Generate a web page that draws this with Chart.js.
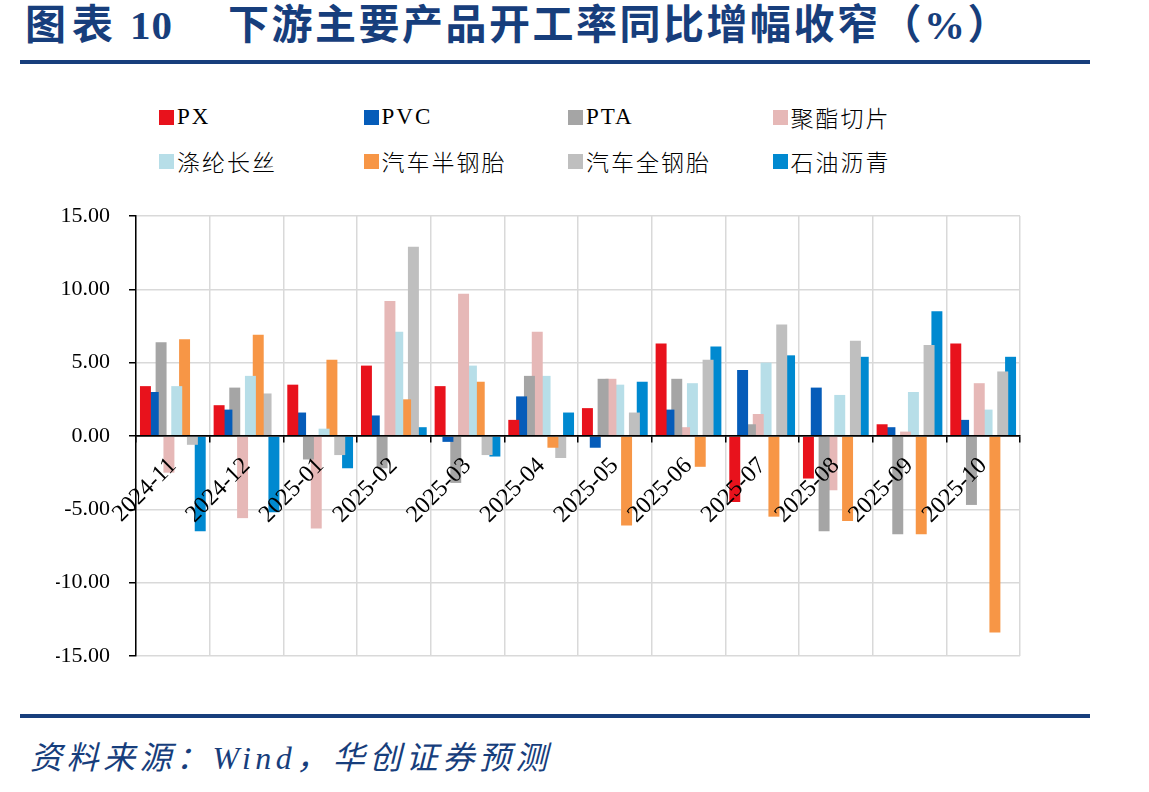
<!DOCTYPE html>
<html>
<head>
<meta charset="utf-8">
<script src="https://cdn.jsdelivr.net/npm/chart.js@4.4.1/dist/chart.umd.min.js"></script>
<style>
  body { margin: 0; width: 1149px; height: 792px; background: #fff; position: relative; overflow: hidden;
         font-family: "Liberation Serif", "Noto Sans CJK SC", serif; }
  .title { position: absolute; top: 1px; color: #173e7c; font-weight: bold; font-size: 41px; line-height: 48px; white-space: nowrap; }
  .rule { position: absolute; left: 20px; width: 1070px; height: 4px; background: #173e7c; }
  #legend { position: absolute; left: 159px; top: 104px; display: grid; grid-template-columns: repeat(4, 204.5px); row-gap: 18px; }
  #legend .item { display: flex; align-items: center; height: 26px; font-size: 23px; font-weight: 300; letter-spacing: 2px; color: #000; white-space: nowrap; }
  #legend .sw { width: 15px; height: 15px; margin-right: 3px; flex: none; }
  #chartBox { position: absolute; left: 0; top: 200px; }
  .source { position: absolute; left: 30px; top: 738px; color: #173e7c; font-style: italic; font-size: 32px; line-height: 40px; letter-spacing: 4.5px; white-space: nowrap; }
</style>
</head>
<body>
<div class="title" style="left:25px; letter-spacing:6px;">图表</div>
<div class="title" style="left:130px; letter-spacing:1px;">10</div>
<div class="title" style="left:228px; letter-spacing:2.5px;">下游主要产品开工率同比增幅收窄（%）</div>
<div class="rule" style="top:60px;"></div>
<div id="legend"></div>
<div id="chartBox"><canvas id="myChart" width="1149" height="470"></canvas></div>
<div class="rule" style="top:714px;"></div>
<div class="source">资料来源：Wind，华创证券预测</div>
<script>
const categories = ["2024-11", "2024-12", "2025-01", "2025-02", "2025-03", "2025-04",
  "2025-05", "2025-06", "2025-07", "2025-08", "2025-09", "2025-10"];

const px = [3.4, 2.1, 3.5, 4.8, 3.4, 1.1, 1.9, 6.3, -4.5, -2.9, 0.8, 6.3];
const pvc = [3.0, 1.8, 1.6, 1.4, -0.4, 2.7, -0.8, 1.8, 4.5, 3.3, 0.6, 1.1];
const pta = [6.4, 3.3, -1.6, -2.2, -3.2, 4.1, 3.9, 3.9, 0.8, -6.5, -6.7, -4.7];
const polyesterChip = [-2.5, -5.6, -6.3, 9.2, 9.7, 7.1, 3.9, 0.6, 1.5, -3.7, 0.3, 3.6];
const polyesterFilament = [3.4, 4.1, 0.5, 7.1, 4.8, 4.1, 3.5, 3.6, 5.0, 2.8, 3.0, 1.8];
const semiSteelTire = [6.6, 6.9, 5.2, 2.5, 3.7, -0.8, -6.1, -2.1, -5.5, -5.8, -6.7, -13.4];
const allSteelTire = [-0.6, 2.9, -1.3, 12.9, -1.3, -1.5, 1.6, 5.2, 7.6, 6.5, 6.2, 4.4];
const asphalt = [-6.5, -5.2, -2.2, 0.6, -1.4, 1.6, 3.7, 6.1, 5.5, 5.4, 8.5, 5.4];

const seriesNames = ["PX", "PVC", "PTA", "聚酯切片", "涤纶长丝", "汽车半钢胎", "汽车全钢胎", "石油沥青"];
const seriesData = [px, pvc, pta, polyesterChip, polyesterFilament, semiSteelTire, allSteelTire, asphalt];
const seriesColors = ["#e8121c", "#055cb9", "#a5a5a5", "#e6b8b7", "#b7dee8", "#f79646", "#bfbfbf", "#0089d0"];

const yMin = -15;
const yMax = 15;
const yStep = 5;

const htmlLegend = {
  id: "htmlLegend",
  afterUpdate(chart) {
    const box = document.getElementById("legend");
    box.innerHTML = "";
    chart.options.plugins.legend.labels.generateLabels(chart).forEach((item) => {
      const el = document.createElement("div");
      el.className = "item";
      const sw = document.createElement("span");
      sw.className = "sw";
      sw.style.background = item.fillStyle;
      const tx = document.createElement("span");
      tx.textContent = item.text;
      el.appendChild(sw);
      el.appendChild(tx);
      box.appendChild(el);
    });
  },
};

// no extra room for label overflow, the chart area is set by layout padding only
const noScalePadding = (s) => {
  s.paddingTop = 0;
  s.paddingBottom = 0;
  s.paddingLeft = 0;
  s.paddingRight = 0;
};

const data = {
  labels: categories,
  datasets: seriesNames.map((name, i) => ({
    label: name,
    data: seriesData[i],
    backgroundColor: seriesColors[i],
    borderWidth: 0,
    categoryPercentage: 0.85,
    barPercentage: 1.4,
  })),
};

const config = {
  type: "bar",
  data: data,
  options: {
    responsive: false,
    animation: false,
    devicePixelRatio: 1,
    layout: { padding: { left: 56, right: 129, top: 16, bottom: 14 } },
    plugins: { legend: { display: false }, tooltip: { enabled: false } },
    scales: {
      x: {
        position: { y: 0 },
        grid: { color: "#d9d9d9", lineWidth: 1.5, tickColor: "#000", tickLength: 6, offset: true },
        border: { color: "#000", width: 1.5, z: 1 },
        ticks: {
          z: 1, // month labels sit over the bars
          color: "#000",
          font: { family: "Liberation Serif", size: 24 },
          minRotation: 45,
          maxRotation: 45,
          autoSkip: false,
          padding: 10,
        },
        afterFit: noScalePadding,
      },
      y: {
        min: yMin,
        max: yMax,
        ticks: {
          stepSize: yStep,
          callback: (v) => v.toFixed(2),
          color: "#000",
          font: { family: "Liberation Serif", size: 22 },
          padding: 19,
        },
        grid: {
          color: (ctx) => (ctx.tick && ctx.tick.value === 0 ? "#000" : "#d9d9d9"),
          lineWidth: 1.5,
          tickColor: "#000",
          tickLength: 7,
        },
        border: { color: "#000", width: 1.5 },
        afterFit: (s) => {
          s.width = 80;
          noScalePadding(s);
        },
      },
    },
  },
  plugins: [htmlLegend],
};

const ctx = document.getElementById("myChart");
const myChart = new Chart(ctx.getContext("2d"), config);
</script>
</body>
</html>
